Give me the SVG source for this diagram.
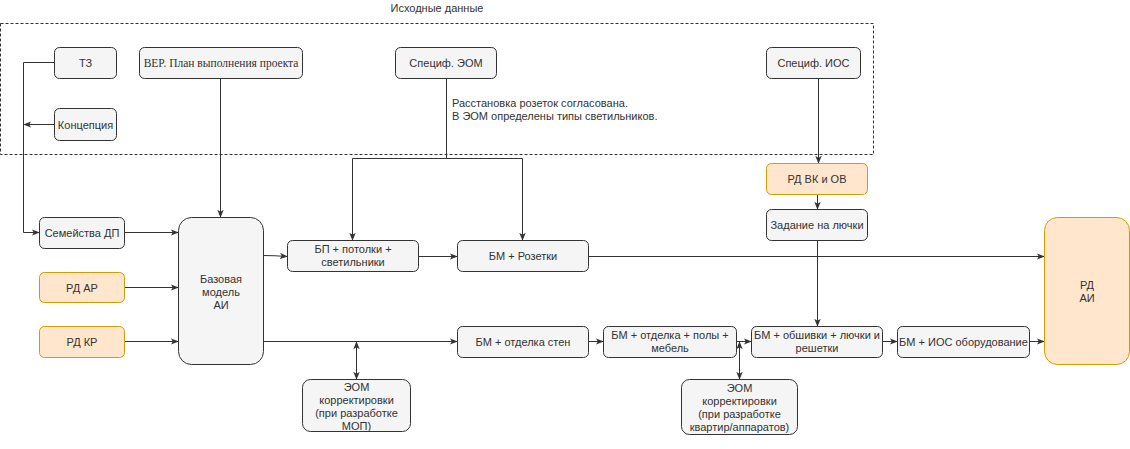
<svg xmlns="http://www.w3.org/2000/svg" width="1130" height="449" viewBox="0 0 1130 449">
<defs>
<marker id="arr" viewBox="0 0 10 10" refX="9" refY="5" markerWidth="8" markerHeight="8" markerUnits="userSpaceOnUse" orient="auto-start-reverse">
<path d="M0,1 L10,5 L0,9 L2.5,5 z" fill="#333"/>
</marker>
<style>
.n{fill:#f5f5f5;stroke:#333;stroke-width:1}
.o{fill:#ffe6cc;stroke:#d79b00;stroke-width:1}
.t{font-family:"Liberation Sans",Arial,sans-serif;font-size:11px;fill:#333;text-anchor:middle}
.tl{font-family:"Liberation Sans",Arial,sans-serif;font-size:11px;fill:#333}
.e{fill:none;stroke:#333;stroke-width:1}
.a{marker-end:url(#arr)}
.b{marker-start:url(#arr);marker-end:url(#arr)}
</style>
</defs>
<rect width="1130" height="449" fill="#fff"/>
<g id="container">
<rect x="0.5" y="23.5" width="873" height="131" fill="none" stroke="#333" stroke-dasharray="3,2"/>
<text class="t" x="437" y="12">Исходные данные</text>
</g>
<g id="connectors">
<path class="e a" d="M54,62.5 H23.5 V232.5 H39"/>
<path class="e a" d="M54,124.5 H24"/>
<path class="e a" d="M220.5,78 V217"/>
<path class="e a" d="M124,232.5 H178"/>
<path class="e a" d="M124,287.5 H178"/>
<path class="e a" d="M124,341.5 H178"/>
<path class="e a" d="M263,255.5 Q275,255.5 287,256.5"/>
<path class="e a" d="M446.5,78 V158.5 H352.5 V240"/>
<path class="e a" d="M446.5,158.5 H522.5 V240"/>
<path class="e a" d="M418,256.5 H457"/>
<path class="e a" d="M588,256.5 H1044"/>
<path class="e a" d="M263,341.5 H457"/>
<path class="e b" d="M356.5,342 V379"/>
<path class="e a" d="M588,341.5 H603"/>
<path class="e a" d="M736,341.5 H751"/>
<path class="e b" d="M739.5,342 V379"/>
<path class="e a" d="M882,341.5 H897"/>
<path class="e a" d="M1029,341.5 H1044"/>
<path class="e a" d="M818.5,78 V163"/>
<path class="e a" d="M817.5,194 V209"/>
<path class="e a" d="M817.5,240 V326"/>
<text class="tl" x="452" y="107">Расстановка розеток согласована.</text>
<text class="tl" x="452" y="120">В ЭОМ определены типы светильников.</text>
</g>
<g id="tz"><rect class="n" x="54.5" y="47.5" width="62" height="31" rx="5"/><text class="t" x="85.5" y="67">ТЗ</text></g>
<g id="koncepcia"><rect class="n" x="54.5" y="108.5" width="62" height="32" rx="5"/><text class="t" x="85.5" y="128.5">Концепция</text></g>
<g id="bep"><rect class="n" x="139.5" y="47.5" width="163" height="31" rx="5"/><text x="221" y="67" text-anchor="middle" font-family="'Liberation Serif','Times New Roman',serif" font-size="11.5px" fill="#333">BEP. План выполнения проекта</text></g>
<g id="spec-eom"><rect class="n" x="395.5" y="47.5" width="101" height="31" rx="5"/><text class="t" x="446" y="67">Специф. ЭОМ</text></g>
<g id="spec-ios"><rect class="n" x="766.5" y="47.5" width="94" height="31" rx="5"/><text class="t" x="813.5" y="67">Специф. ИОС</text></g>
<g id="semeystva"><rect class="n" x="39.5" y="217.5" width="85" height="31" rx="5"/><text class="t" x="82" y="236.5">Семейства ДП</text></g>
<g id="rd-ar"><rect class="o" x="39.5" y="272.5" width="85" height="30" rx="5"/><text class="t" x="82" y="291.5">РД АР</text></g>
<g id="rd-kr"><rect class="o" x="39.5" y="326.5" width="85" height="31" rx="5"/><text class="t" x="82" y="345.5">РД КР</text></g>
<g id="base"><rect class="n" x="178.5" y="217.5" width="85" height="147" rx="13"/><text class="t" x="221" y="283" font-size="12px">Базовая</text><text class="t" x="221" y="296" font-size="12px">модель</text><text class="t" x="221" y="309" font-size="12px">АИ</text></g>
<g id="bp"><rect class="n" x="287.5" y="240.5" width="131" height="31" rx="5"/><text class="t" x="353" y="253">БП + потолки +</text><text class="t" x="353" y="266">светильники</text></g>
<g id="bm-roz"><rect class="n" x="457.5" y="240.5" width="131" height="31" rx="5"/><text class="t" x="523" y="260">БМ + Розетки</text></g>
<g id="bm-ot"><rect class="n" x="457.5" y="326.5" width="131" height="31" rx="5"/><text class="t" x="523" y="345.5">БМ + отделка стен</text></g>
<g id="eom1"><rect class="n" x="302.5" y="379.5" width="108" height="52" rx="8"/><text class="t" x="356.5" y="391">ЭОМ</text><text class="t" x="356.5" y="404">корректировки</text><text class="t" x="356.5" y="417">(при разработке</text><text class="t" x="356.5" y="430">МОП)</text></g>
<g id="bm-pol"><rect class="n" x="603.5" y="326.5" width="133" height="31" rx="5"/><text class="t" x="670" y="339">БМ + отделка + полы +</text><text class="t" x="670" y="352">мебель</text></g>
<g id="bm-obsh"><rect class="n" x="751.5" y="326.5" width="131" height="31" rx="5"/><text class="t" x="817" y="339">БМ + обшивки + лючки и</text><text class="t" x="817" y="352">решетки</text></g>
<g id="eom2"><rect class="n" x="681.5" y="379.5" width="116" height="55" rx="8"/><text class="t" x="739.5" y="392">ЭОМ</text><text class="t" x="739.5" y="405">корректировки</text><text class="t" x="739.5" y="418">(при разработке</text><text class="t" x="739.5" y="431">квартир/аппаратов)</text></g>
<g id="bm-ios"><rect class="n" x="897.5" y="326.5" width="132" height="31" rx="5"/><text class="t" x="963.5" y="345.5">БМ + ИОС оборудование</text></g>
<g id="rd-vk"><rect class="o" x="766.5" y="163.5" width="101" height="31" rx="5"/><text class="t" x="817" y="182.5">РД ВК и ОВ</text></g>
<g id="zad"><rect class="n" x="766.5" y="209.5" width="101" height="31" rx="5"/><text class="t" x="817" y="228.5">Задание на лючки</text></g>
<g id="rd-ai"><rect class="o" x="1044.5" y="217.5" width="85" height="147" rx="13"/><text class="t" x="1087" y="289" font-size="12px">РД</text><text class="t" x="1087" y="302" font-size="12px">АИ</text></g>
</svg>
